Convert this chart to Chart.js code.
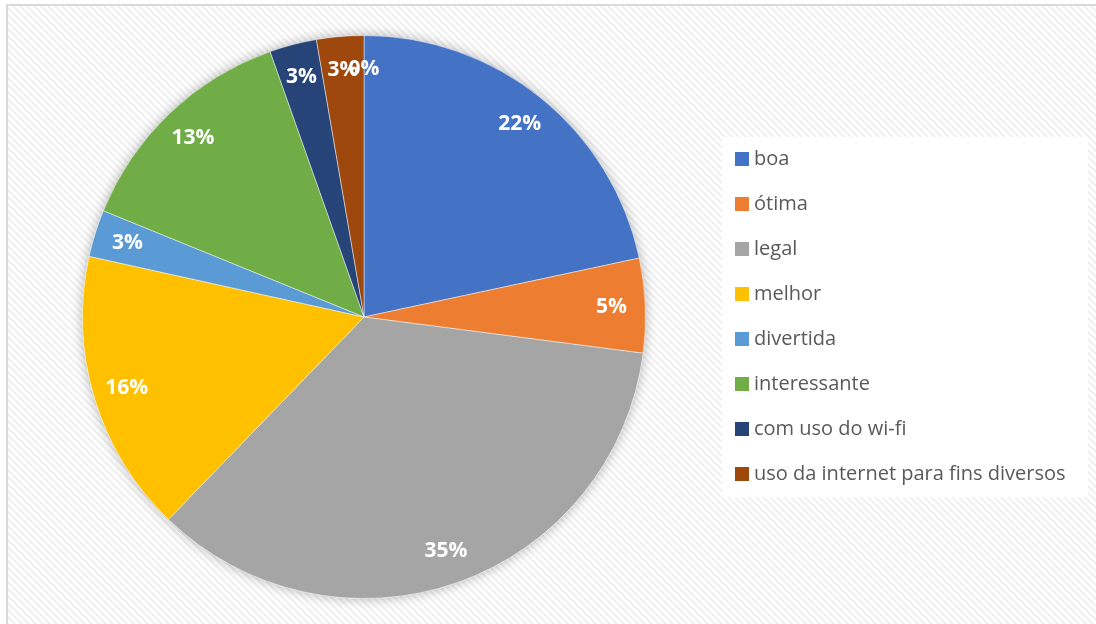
<!DOCTYPE html>
<html>
<head>
<meta charset="utf-8">
<script src="https://cdn.jsdelivr.net/npm/chart.js@4"></script>
<style>
    html, body { margin: 0; padding: 0; background: #ffffff; }
    #wrap { width: 1096px; height: 624px; position: relative; }
</style>
</head>
<body>
<div id="wrap"><canvas id="pie-chart" width="1096" height="624"></canvas></div>
<script>
// chart data
const categories = ['boa', 'ótima', 'legal', 'melhor', 'divertida', 'interessante',
    'com uso do wi-fi', 'uso da internet para fins diversos', ''];
const shares = [21.6, 5.4, 35.1, 16.2, 2.7, 13.4, 2.7, 2.7, 0];
const sliceColors = ['#4472C4', '#ED7D31', '#A5A5A5', '#FFC000', '#5B9BD5', '#70AD47',
    '#264478', '#9E480E', '#636363'];

document.addEventListener('DOMContentLoaded', () => {
    // hatched background + frame
    const hatch = document.createElement('canvas');
    hatch.width = 7;
    hatch.height = 7;
    const hctx = hatch.getContext('2d');
    hctx.fillStyle = '#ffffff';
    hctx.fillRect(0, 0, 7, 7);
    hctx.strokeStyle = '#f0f0f0';
    hctx.lineWidth = 2;
    hctx.beginPath();
    hctx.moveTo(-1, -1); hctx.lineTo(8, 8);
    hctx.moveTo(-8, -1); hctx.lineTo(1, 8);
    hctx.moveTo(6, -1); hctx.lineTo(15, 8);
    hctx.stroke();

    const backdrop = {
        id: 'backdrop',
        beforeDraw(chart) {
            const c = chart.ctx;
            c.save();
            c.fillStyle = '#ffffff';
            c.fillRect(0, 0, chart.width, chart.height);
            c.fillStyle = c.createPattern(hatch, 'repeat');
            c.fillRect(7, 5, chart.width, chart.height);
            c.strokeStyle = '#d9d9d9';
            c.lineWidth = 2;
            c.strokeRect(7, 5, chart.width + 10, chart.height + 10);
            c.restore();
        },
        beforeDatasetsDraw(chart) {
            // soft shadow under the pie
            const arc = chart.getDatasetMeta(0).data[0];
            const c = chart.ctx;
            c.save();
            c.shadowColor = 'rgba(0,0,0,0.3)';
            c.shadowBlur = 12;
            c.fillStyle = '#ffffff';
            c.beginPath();
            c.arc(arc.x, arc.y, arc.outerRadius, 0, Math.PI * 2);
            c.fill();
            c.restore();
        },
    };

    // percentage labels inside slices
    const sliceLabels = {
        id: 'sliceLabels',
        afterDatasetsDraw(chart) {
            const c = chart.ctx;
            const meta = chart.getDatasetMeta(0);
            c.save();
            c.fillStyle = '#ffffff';
            c.font = 'bold 21px "Open Sans", sans-serif';
            c.textAlign = 'center';
            c.textBaseline = 'middle';
            meta.data.forEach((arc, i) => {
                const mid = (arc.startAngle + arc.endAngle) / 2;
                const r = arc.outerRadius * 0.88;
                c.fillText(Math.round(shares[i]) + '%', arc.x + Math.cos(mid) * r, arc.y + Math.sin(mid) * r);
            });
            c.restore();
        },
    };

    // legend box on the right
    const sideLegend = {
        id: 'sideLegend',
        afterDraw(chart) {
            const c = chart.ctx;
            c.save();
            c.fillStyle = 'rgba(255,255,255,0.92)';
            c.fillRect(722, 137, 366, 360);
            c.font = '20px "Open Sans", sans-serif';
            c.textBaseline = 'middle';
            let y = 159;
            categories.forEach((name, i) => {
                if (!name) return;
                c.fillStyle = sliceColors[i];
                c.fillRect(735, y - 7, 14, 14);
                c.fillStyle = '#595959';
                c.fillText(name, 754, y);
                y += 45;
            });
            c.restore();
        },
    };

    const ctx = document.getElementById('pie-chart').getContext('2d');
    new Chart(ctx, {
        type: 'pie',
        data: {
            labels: categories,
            datasets: [
                {
                    data: shares,
                    backgroundColor: sliceColors,
                    borderColor: 'rgba(255,255,255,0.45)',
                    borderWidth: 1,
                },
            ],
        },
        options: {
            responsive: false,
            animation: false,
            layout: {
                padding: { top: 35, bottom: 25, left: 82, right: 450 },
            },
            plugins: {
                legend: { display: false },
                tooltip: { enabled: false },
            },
        },
        plugins: [backdrop, sliceLabels, sideLegend],
    });
});
</script>
</body>
</html>
